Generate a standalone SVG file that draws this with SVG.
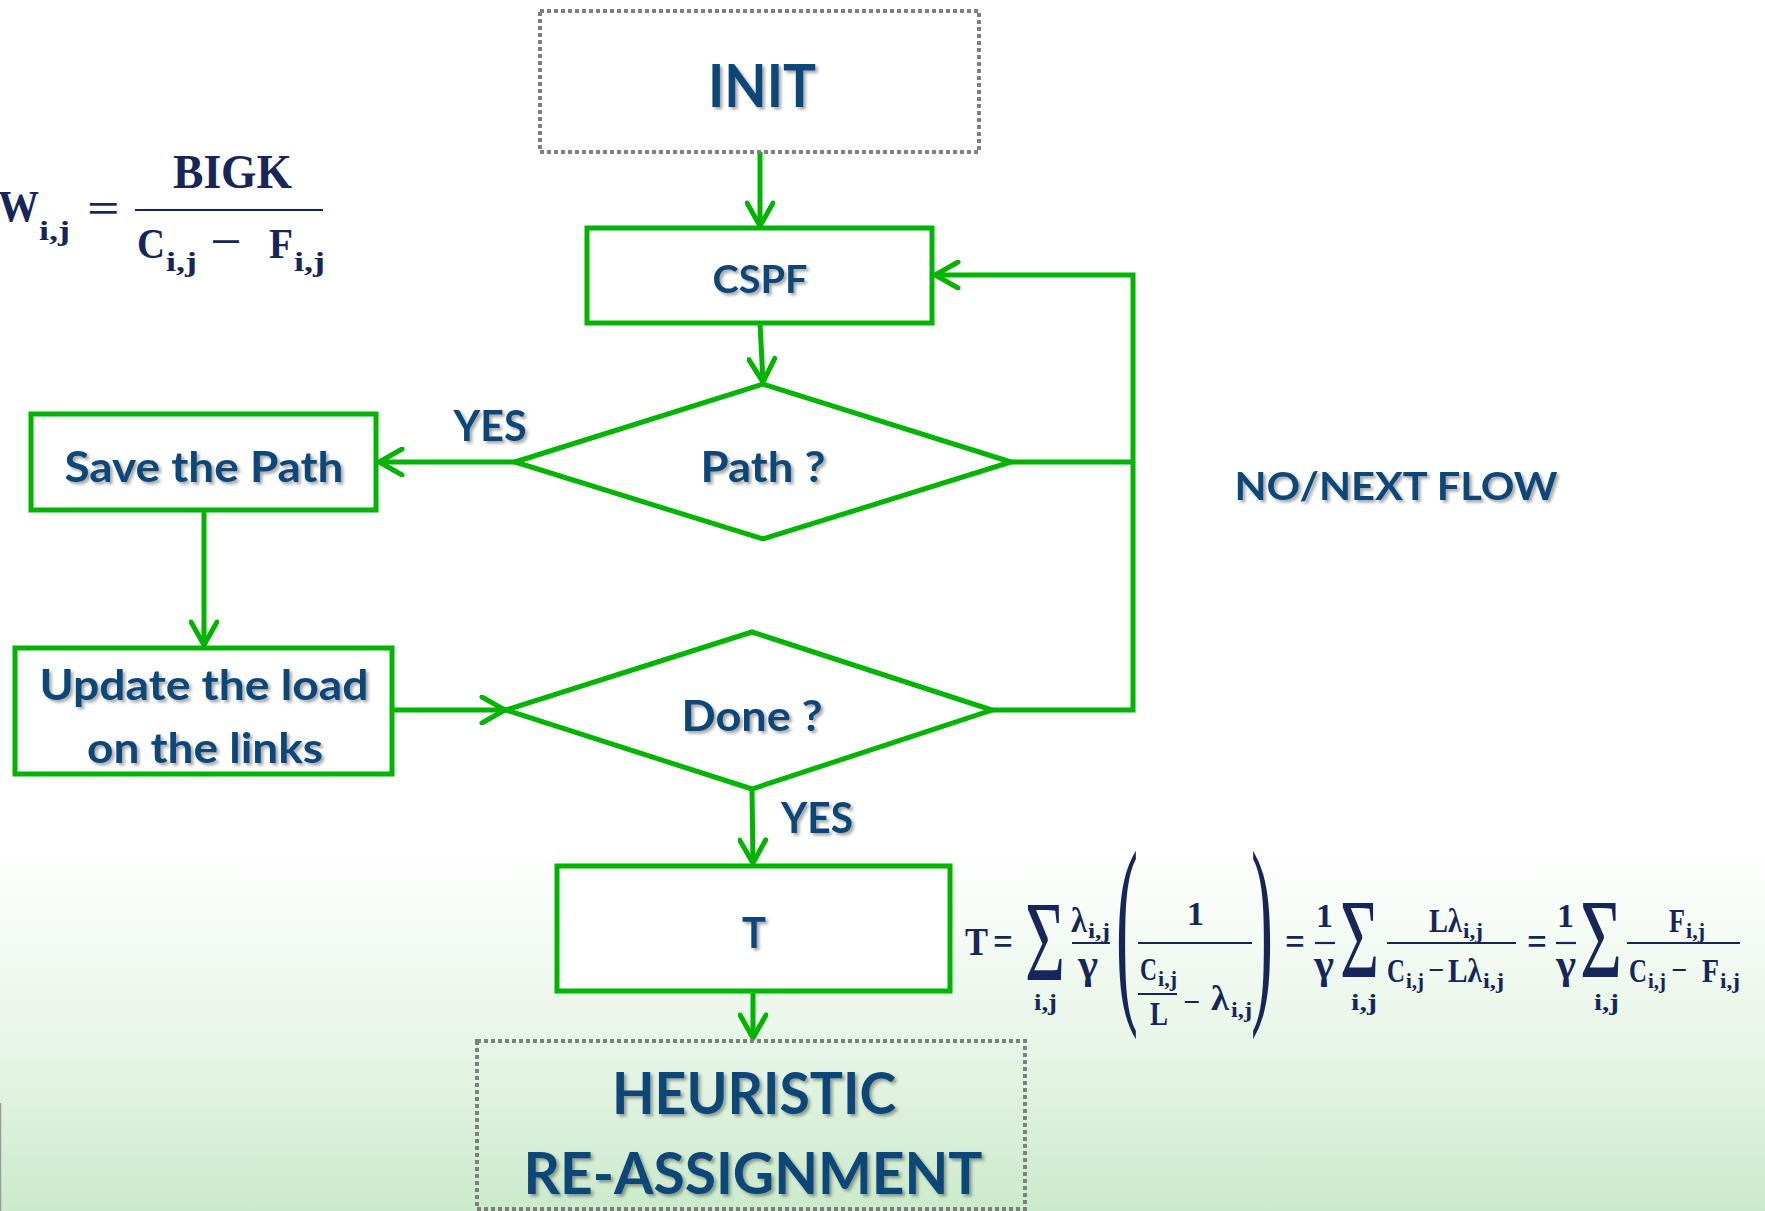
<svg xmlns="http://www.w3.org/2000/svg" width="1765" height="1211" viewBox="0 0 1765 1211">
<defs>
<linearGradient id="bg" x1="0" y1="0" x2="0" y2="1">
<stop offset="0" stop-color="#FFFFFF"/>
<stop offset="0.70" stop-color="#FFFFFF"/>
<stop offset="0.87" stop-color="#E6F5E6"/>
<stop offset="1" stop-color="#CBEACB"/>
</linearGradient>
<filter id="sh" x="-10%" y="-20%" width="130%" height="150%">
<feDropShadow dx="2.5" dy="2.5" stdDeviation="1.6" flood-color="#000" flood-opacity="0.35"/>
</filter>
<marker id="ah" viewBox="0 0 30 30" refX="26" refY="15" markerWidth="30" markerHeight="30" markerUnits="userSpaceOnUse" orient="auto">
<path d="M3,2 L26,15 L3,28" fill="none" stroke="#00B400" stroke-width="5" stroke-linecap="round"/>
</marker>
</defs>
<style>
.box{fill:#FFFFFF;stroke:#00B400;stroke-width:5}
.dash{fill:none;stroke:#7F7F7F;stroke-width:4;stroke-dasharray:4 3}
.lbl{font-family:Lato,"Open Sans",sans-serif;font-weight:bold;fill:#104678;text-anchor:middle;filter:url(#sh)}
.con{fill:none;stroke:#00B400;stroke-width:5}
.m{font-family:"Liberation Serif","Times New Roman",serif;font-weight:bold;fill:#16265A}
.p{font-family:"Liberation Serif","Times New Roman",serif;fill:#16265A}
.mb{font-family:"Liberation Serif","Times New Roman",serif;font-weight:bold;fill:#16265A}
.fl{stroke:#16265A;stroke-width:2.2}
</style>
<rect x="0" y="0" width="1765" height="1211" fill="url(#bg)"/>
<line x1="0.5" y1="1103" x2="0.5" y2="1211" stroke="#9A9A9A" stroke-width="1.5"/>

<g id="connectors">
<line class="con" x1="760" y1="152" x2="760" y2="226" stroke-width="4" marker-end="url(#ah)"/>
<line class="con" x1="760" y1="323" x2="763" y2="382" marker-end="url(#ah)"/>
<line class="con" x1="515" y1="462" x2="379" y2="462" stroke-width="6" marker-end="url(#ah)"/>
<line class="con" x1="204" y1="510" x2="204" y2="645" marker-end="url(#ah)"/>
<line class="con" x1="392" y1="710" x2="505" y2="710" marker-end="url(#ah)"/>
<line class="con" x1="752" y1="789" x2="753" y2="863" marker-end="url(#ah)"/>
<line class="con" x1="753" y1="992" x2="753" y2="1038" marker-end="url(#ah)"/>
<line class="con" x1="1011" y1="462" x2="1133" y2="462"/>
<polyline class="con" points="992,710 1133,710 1133,275 935,275" marker-end="url(#ah)"/>
<text class="lbl" x="490" y="441" font-size="42" textLength="73" lengthAdjust="spacingAndGlyphs">YES</text>
<text class="lbl" x="817" y="833" font-size="42" textLength="72" lengthAdjust="spacingAndGlyphs">YES</text>
<text class="lbl" x="1396" y="500" font-size="39" textLength="323" lengthAdjust="spacingAndGlyphs">NO/NEXT FLOW</text>
</g>

<g id="init">
<rect class="dash" x="540" y="11" width="439" height="141"/>
<text class="lbl" x="762" y="107" font-size="60" textLength="108" lengthAdjust="spacingAndGlyphs">INIT</text>
</g>
<g id="cspf">
<rect class="box" x="587" y="228" width="345" height="95"/>
<text class="lbl" x="760" y="293" font-size="39" textLength="95" lengthAdjust="spacingAndGlyphs">CSPF</text>
</g>
<g id="path">
<polygon class="box" points="515,462 763,384 1011,462 763,539"/>
<text class="lbl" x="763" y="482" font-size="42" textLength="125" lengthAdjust="spacingAndGlyphs">Path ?</text>
</g>
<g id="save">
<rect class="box" x="31" y="414" width="345" height="96"/>
<text class="lbl" x="204" y="482" font-size="42" textLength="279" lengthAdjust="spacingAndGlyphs">Save the Path</text>
</g>
<g id="update">
<rect class="box" x="15" y="648" width="377" height="126"/>
<text class="lbl" x="204" y="700" font-size="42" textLength="329" lengthAdjust="spacingAndGlyphs">Update the load</text>
<text class="lbl" x="205" y="763" font-size="42" textLength="236" lengthAdjust="spacingAndGlyphs">on the links</text>
</g>
<g id="done">
<polygon class="box" points="506,710 752,632 992,710 752,789"/>
<text class="lbl" x="752" y="731" font-size="42" textLength="141" lengthAdjust="spacingAndGlyphs">Done ?</text>
</g>
<g id="t">
<rect class="box" x="557" y="866" width="393" height="125"/>
<text class="lbl" x="754" y="948" font-size="42" textLength="24" lengthAdjust="spacingAndGlyphs">T</text>
</g>
<g id="heuristic">
<rect class="dash" x="477" y="1041" width="548" height="168"/>
<text class="lbl" x="754" y="1114" font-size="58" textLength="284" lengthAdjust="spacingAndGlyphs">HEURISTIC</text>
<text class="lbl" x="753" y="1194" font-size="58" textLength="459" lengthAdjust="spacingAndGlyphs">RE-ASSIGNMENT</text>
</g>

<g id="formula-w">
<text class="mb" x="-2" y="221" font-size="44" textLength="41" lengthAdjust="spacingAndGlyphs">W</text>
<text class="mb" x="39" y="240" font-size="28" textLength="31" lengthAdjust="spacingAndGlyphs">i,j</text>
<text class="mb" x="87" y="222" font-size="40" textLength="33" lengthAdjust="spacingAndGlyphs">=</text>
<text class="mb" x="173" y="188" font-size="48" textLength="119" lengthAdjust="spacingAndGlyphs">BIGK</text>
<line class="fl" x1="135" y1="210" x2="323" y2="210"/>
<text class="mb" x="137" y="258" font-size="42" textLength="28" lengthAdjust="spacingAndGlyphs">C</text>
<text class="mb" x="166" y="271" font-size="27" textLength="31" lengthAdjust="spacingAndGlyphs">i,j</text>
<text class="mb" x="210" y="255" font-size="40" textLength="32" lengthAdjust="spacingAndGlyphs">−</text>
<text class="mb" x="269" y="258" font-size="42" textLength="24" lengthAdjust="spacingAndGlyphs">F</text>
<text class="mb" x="294" y="271" font-size="27" textLength="31" lengthAdjust="spacingAndGlyphs">i,j</text>
</g>

<g id="formula-t">
<text class="m" x="965" y="955" font-size="41" textLength="23" lengthAdjust="spacingAndGlyphs">T</text>
<text class="m" x="993" y="955" font-size="40" textLength="20" lengthAdjust="spacingAndGlyphs">=</text>
<text class="p" x="1025" y="980" font-size="115" textLength="40" lengthAdjust="spacingAndGlyphs">Σ</text>
<text class="m" x="1034" y="1010" font-size="24" textLength="23" lengthAdjust="spacingAndGlyphs">i,j</text>
<text class="m" x="1071" y="932" font-size="36" textLength="16" lengthAdjust="spacingAndGlyphs">λ</text>
<text class="m" x="1088" y="938" font-size="21" textLength="22" lengthAdjust="spacingAndGlyphs">i,j</text>
<line class="fl" x1="1072" y1="943" x2="1110" y2="943"/>
<text class="m" x="1078" y="978" font-size="42" textLength="20" lengthAdjust="spacingAndGlyphs">γ</text>
<text class="p" x="1116" y="995" font-size="208" textLength="22" lengthAdjust="spacingAndGlyphs">(</text>
<text class="m" x="1187" y="925" font-size="34" textLength="17" lengthAdjust="spacingAndGlyphs">1</text>
<line class="fl" x1="1138" y1="943" x2="1252" y2="943"/>
<text class="m" x="1140" y="980" font-size="32" textLength="17" lengthAdjust="spacingAndGlyphs">C</text>
<text class="m" x="1158" y="986" font-size="21" textLength="19" lengthAdjust="spacingAndGlyphs">i,j</text>
<line class="fl" x1="1138" y1="994" x2="1177" y2="994"/>
<text class="m" x="1150" y="1025" font-size="33" textLength="18" lengthAdjust="spacingAndGlyphs">L</text>
<text class="m" x="1183" y="1012" font-size="30" textLength="17" lengthAdjust="spacingAndGlyphs">−</text>
<text class="m" x="1211" y="1010" font-size="36" textLength="18" lengthAdjust="spacingAndGlyphs">λ</text>
<text class="m" x="1231" y="1017" font-size="21" textLength="21" lengthAdjust="spacingAndGlyphs">i,j</text>
<text class="p" x="1251" y="995" font-size="208" textLength="22" lengthAdjust="spacingAndGlyphs">)</text>
<text class="m" x="1285" y="955" font-size="40" textLength="20" lengthAdjust="spacingAndGlyphs">=</text>
<text class="m" x="1316" y="927" font-size="34" textLength="17" lengthAdjust="spacingAndGlyphs">1</text>
<line class="fl" x1="1315" y1="943" x2="1335" y2="943"/>
<text class="m" x="1314" y="978" font-size="42" textLength="20" lengthAdjust="spacingAndGlyphs">γ</text>
<text class="p" x="1340" y="977" font-size="112" textLength="39" lengthAdjust="spacingAndGlyphs">Σ</text>
<text class="m" x="1351" y="1010" font-size="24" textLength="26" lengthAdjust="spacingAndGlyphs">i,j</text>
<text class="m" x="1429" y="932" font-size="33" textLength="33" lengthAdjust="spacingAndGlyphs">Lλ</text>
<text class="m" x="1463" y="938" font-size="21" textLength="20" lengthAdjust="spacingAndGlyphs">i,j</text>
<line class="fl" x1="1387" y1="943" x2="1516" y2="943"/>
<text class="m" x="1387" y="982" font-size="33" textLength="18" lengthAdjust="spacingAndGlyphs">C</text>
<text class="m" x="1406" y="988" font-size="21" textLength="18" lengthAdjust="spacingAndGlyphs">i,j</text>
<text class="m" x="1428" y="980" font-size="30" textLength="16" lengthAdjust="spacingAndGlyphs">−</text>
<text class="m" x="1448" y="982" font-size="33" textLength="34" lengthAdjust="spacingAndGlyphs">Lλ</text>
<text class="m" x="1483" y="988" font-size="21" textLength="21" lengthAdjust="spacingAndGlyphs">i,j</text>
<text class="m" x="1527" y="955" font-size="40" textLength="20" lengthAdjust="spacingAndGlyphs">=</text>
<text class="m" x="1557" y="927" font-size="34" textLength="17" lengthAdjust="spacingAndGlyphs">1</text>
<line class="fl" x1="1556" y1="943" x2="1576" y2="943"/>
<text class="m" x="1556" y="978" font-size="42" textLength="20" lengthAdjust="spacingAndGlyphs">γ</text>
<text class="p" x="1580" y="977" font-size="112" textLength="42" lengthAdjust="spacingAndGlyphs">Σ</text>
<text class="m" x="1594" y="1010" font-size="24" textLength="25" lengthAdjust="spacingAndGlyphs">i,j</text>
<text class="m" x="1669" y="932" font-size="33" textLength="16" lengthAdjust="spacingAndGlyphs">F</text>
<text class="m" x="1686" y="938" font-size="21" textLength="19" lengthAdjust="spacingAndGlyphs">i,j</text>
<line class="fl" x1="1627" y1="943" x2="1740" y2="943"/>
<text class="m" x="1629" y="982" font-size="33" textLength="18" lengthAdjust="spacingAndGlyphs">C</text>
<text class="m" x="1648" y="988" font-size="21" textLength="18" lengthAdjust="spacingAndGlyphs">i,j</text>
<text class="m" x="1671" y="980" font-size="30" textLength="16" lengthAdjust="spacingAndGlyphs">−</text>
<text class="m" x="1702" y="982" font-size="33" textLength="17" lengthAdjust="spacingAndGlyphs">F</text>
<text class="m" x="1720" y="988" font-size="21" textLength="20" lengthAdjust="spacingAndGlyphs">i,j</text>
</g>
</svg>
